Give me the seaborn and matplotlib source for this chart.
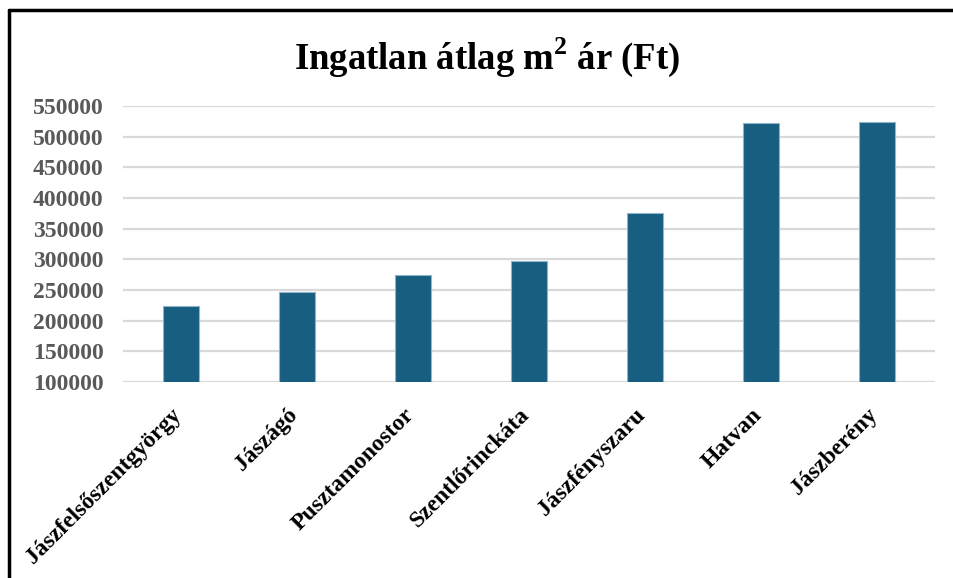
import matplotlib
matplotlib.use('Agg')
import matplotlib.pyplot as plt
import matplotlib.transforms as mtransforms
from matplotlib.lines import Line2D
import seaborn as sns
import pandas as pd

# data
telepulesek = ['Jászfelsőszentgyörgy', 'Jászágó', 'Pusztamonostor', 'Szentlőrinckáta',
               'Jászfényszaru', 'Hatvan', 'Jászberény']
arak = [224000, 247000, 274000, 297000, 376000, 522000, 524000]
y_ticks = [100000, 150000, 200000, 250000, 300000, 350000, 400000, 450000, 500000, 550000]

df = pd.DataFrame({'telepules': telepulesek, 'ar': arak})

sns.set_style('white')
plt.rcParams['font.family'] = ['Liberation Serif', 'DejaVu Serif']
plt.rcParams['mathtext.fontset'] = 'custom'
plt.rcParams['mathtext.rm'] = 'Liberation Serif:bold'
plt.rcParams['mathtext.bf'] = 'Liberation Serif:bold'

fig = plt.figure(figsize=(9.54, 5.78), dpi=100)
ax = fig.add_axes([0.129, 0.339, 0.851, 0.4776])

sns.barplot(x='telepules', y='ar', data=df, color='#175E80', saturation=1, width=0.31,
            edgecolor='#8FB4CC', linewidth=0.8, ax=ax, zorder=3)

ax.set_ylim(100000, 550000)
ax.set_yticks(y_ticks)
ax.set_yticklabels([str(v) for v in y_ticks], fontsize=17, fontweight='bold', color='#595959')
ax.yaxis.grid(True, color='#D9D9D9', linewidth=1.6, zorder=0)
ax.set_axisbelow(True)
ax.tick_params(axis='y', length=0, pad=14)
ax.tick_params(axis='x', length=0, pad=16)
ax.set_xlabel('')
ax.set_ylabel('')
for s in ax.spines.values():
    s.set_visible(False)

offset = mtransforms.ScaledTranslation(5 / 100, 0, fig.dpi_scale_trans)
for lbl in ax.get_xticklabels():
    lbl.set_rotation(45)
    lbl.set_ha('right')
    lbl.set_va('top')
    lbl.set_fontsize(17)
    lbl.set_fontweight('bold')
    lbl.set_color('black')
    lbl.set_transform(lbl.get_transform() + offset)

fig.text(0.511, 0.901, r'Ingatlan átlag m$^{\mathbf{2}}$ ár (Ft)', ha='center', va='center',
         fontsize=26.5, fontweight='bold', color='black')

# chart frame (top and left edges only visible)
fig.add_artist(Line2D([0.009, 1.0], [0.983, 0.983], color='black', linewidth=2.5,
                      transform=fig.transFigure))
fig.add_artist(Line2D([0.009, 0.009], [0.0, 0.983], color='black', linewidth=2.5,
                      transform=fig.transFigure))

fig.savefig('out.png', dpi=100)
